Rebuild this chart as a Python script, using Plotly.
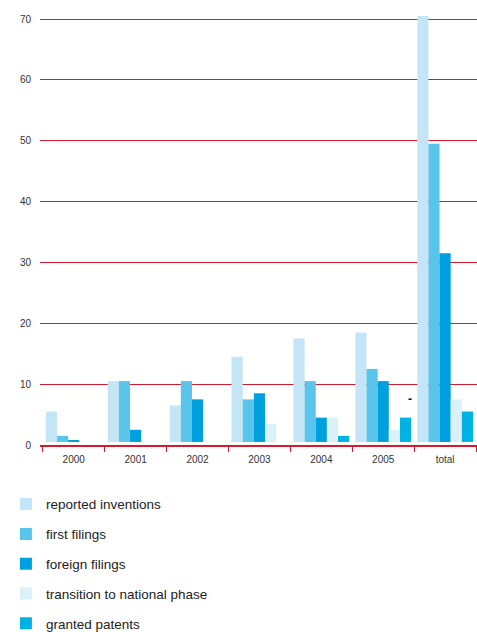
import plotly.graph_objects as go

categories = ["2000", "2001", "2002", "2003", "2004", "2005", "total"]
reported_inventions = [5.0, 10.0, 6.0, 14.0, 17.0, 18.0, 70.0]
first_filings = [1.0, 10.0, 10.0, 7.0, 10.0, 12.0, 49.0]
foreign_filings = [0.2, 2.0, 7.0, 8.0, 4.0, 10.0, 31.0]
transition_national = [0.0, 0.0, 0.0, 3.0, 4.0, 2.0, 7.0]
granted_patents = [0.0, 0.0, 0.0, 0.0, 1.0, 4.0, 5.0]
y_ticks = [0, 10, 20, 30, 40, 50, 60, 70]

series = [
    ("reported inventions", reported_inventions, "#c4e5f5"),
    ("first filings", first_filings, "#5ac5eb"),
    ("foreign filings", foreign_filings, "#009fdd"),
    ("transition to national phase", transition_national, "#dcf0f8"),
    ("granted patents", granted_patents, "#00b2e3"),
]

RED = "#d7192d"
FONT = "Liberation Sans, Arial, sans-serif"

fig = go.Figure()
for i, (name, vals, col) in enumerate(series):
    fig.add_trace(go.Bar(
        x=categories, y=vals, name=name, base=0.5,
        marker=dict(color=col, line=dict(width=0)),
        legendgroup=f"g{i}",
    ))

fig.add_annotation(x=categories.index("2005"), y=7.5, xref="x", yref="y",
                   text="<b>-</b>", showarrow=False, xshift=27,
                   font=dict(size=12, color="#111", family=FONT))

fig.update_layout(
    width=477, height=632,
    margin=dict(l=40, r=0, t=13, b=187, autoexpand=False),
    paper_bgcolor="white", plot_bgcolor="white",
    barmode="group", bargap=0.1, bargroupgap=0,
    font=dict(family=FONT, color="#333", size=10),
    showlegend=True,
    legend=dict(orientation="v", x=-0.078, xanchor="left", y=-0.1015, yanchor="top",
                font=dict(size=13.5, color="#222", family=FONT),
                tracegroupgap=9.25, bgcolor="rgba(0,0,0,0)"),
    xaxis=dict(range=[-0.545, 6.515], type="category", tickson="boundaries",
               ticks="outside", ticklen=5, tickcolor=RED, tickwidth=1,
               showline=True, linecolor=RED, linewidth=1.5, showgrid=False,
               ticklabelstandoff=4, tickfont=dict(size=10, color="#333")),
    yaxis=dict(range=[0, 71], tickvals=y_ticks, showgrid=True, gridcolor=RED,
               gridwidth=1, zeroline=False, showline=False, ticks="",
               ticklabelstandoff=8, tickfont=dict(size=10, color="#333")),
)

fig.write_html("out.html")
